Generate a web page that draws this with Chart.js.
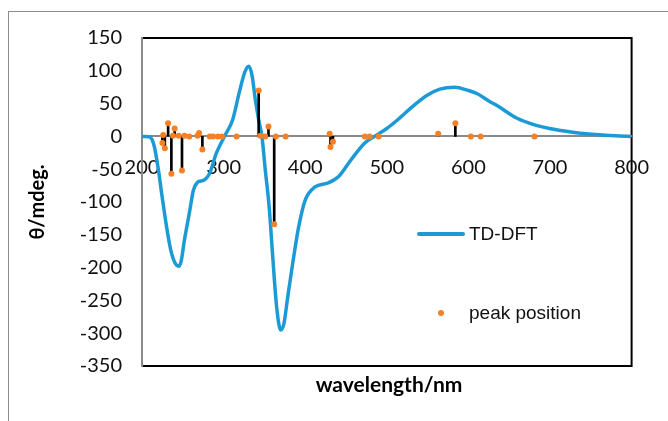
<!DOCTYPE html>
<html>
<head>
<meta charset="utf-8">
<script src="https://cdn.jsdelivr.net/npm/chart.js@4/dist/chart.umd.min.js"></script>
<style>
  html, body { margin: 0; padding: 0; background: #fff; }
  #wrap { position: relative; width: 668px; height: 421px; overflow: hidden; }
  #frame { position: absolute; left: 8px; top: 11px; width: 700px; height: 500px; border: 1px solid #8c8c8c; }
  #chart { position: absolute; left: 0; top: 0; }
  .xtitle { position: absolute; left: 142px; width: 494px; top: 371px; text-align: center;
            font: bold 21px Lato, sans-serif; color: #000; }
  .leg { position: absolute; font: 19px "Liberation Sans", Arial, sans-serif; color: #111; line-height: 20px; }
  .leg-line { position: absolute; left: 417px; top: 232px; width: 48px; height: 4px; border-radius: 2px; background: #1c9ad6; }
  .leg-dot { position: absolute; left: 438px; top: 310px; width: 6px; height: 6px; border-radius: 50%; background: #f58025; }
</style>
</head>
<body>
<div id="wrap">
  <div id="frame"></div>
  <canvas id="chart" width="668" height="421"></canvas>
  <div class="xtitle">wavelength/nm</div>
  <div class="leg-line"></div>
  <div class="leg" style="left:469px; top:224px;">TD-DFT</div>
  <div class="leg-dot"></div>
  <div class="leg" style="left:469px; top:303px;">peak position</div>
</div>
<script>
// TD-DFT simulated CD spectrum
const curveNm = [200, 205, 210, 215, 220, 225, 230, 235, 240, 245, 248, 252, 258, 263, 268, 272, 277, 283,
  291, 301, 311, 319, 326, 331, 335, 339, 343, 347, 351, 356, 360, 365, 370, 374, 378, 384, 392, 400,
  412, 428, 441, 456, 473, 489, 500, 513, 534, 550, 565, 583, 600, 611, 625, 635, 659, 680, 708, 730,
  756, 780, 800];
const curveCd = [0, 0, -1, -15, -50, -95, -137, -172, -192, -198, -190, -158, -117, -82, -70, -68, -66, -56,
  -26, 0, 25, 66, 98, 107, 92, 55, 25, 0, -50, -110, -180, -260, -295, -285, -250, -199, -138, -97,
  -77, -71, -61, -36, -10, 3, 12, 25, 48, 63, 72, 75, 70, 65, 54, 47, 28, 18, 10, 6,
  3, 1, 0];

// calculated transitions (stick spectrum)
const peakNm = [225, 226, 228, 232, 236, 238, 240, 245, 249, 252, 258, 268, 270, 274, 283, 287, 293, 298,
  316, 343, 345, 351, 355, 362, 364, 376, 430, 431, 434, 473, 479, 490, 563, 584, 603, 615, 681];
const peakCd = [-10, 2, -18, 20, -57, 1, 12, 1, -52, 1, 0, 1, 5, -20, 0, 0, 0, 0,
  0, 70, 1, 0, 15, -134, 0, 0, 4, -16, -8, 0, 0, 0, 4, 20, 0, 0, 0];

const yTicks = { min: -350, max: 150, step: 50 };
const xTicks = { min: 200, max: 800, step: 100 };

const blue = '#1c9ad6';
const orange = '#f58025';

const curvePts = curveNm.map((x, i) => ({ x, y: curveCd[i] }));
const peakPts = peakNm.map((x, i) => ({ x, y: peakCd[i] }));

const plotBorder = {
  id: 'plotBorder',
  beforeDraw(chart) {
    const { ctx, chartArea: a } = chart;
    ctx.save();
    ctx.strokeStyle = '#000';
    ctx.lineWidth = 2;
    ctx.strokeRect(a.left, a.top, a.right - a.left, a.bottom - a.top);
    ctx.restore();
  }
};

const tickFont = { family: 'Lato', size: 20 };

new Chart(document.getElementById('chart').getContext('2d'), {
  data: {
    datasets: [
      {
        type: 'line',
        label: 'TD-DFT',
        data: curvePts,
        borderColor: blue,
        borderWidth: 3.5,
        pointRadius: 0,
        cubicInterpolationMode: 'monotone',
        fill: false,
        order: 2
      },
      {
        type: 'bar',
        label: 'sticks',
        data: peakPts,
        backgroundColor: '#000',
        barThickness: 2,
        order: 1
      },
      {
        type: 'scatter',
        label: 'peak position',
        data: peakPts,
        backgroundColor: orange,
        borderWidth: 0,
        pointRadius: 3,
        order: 0
      }
    ]
  },
  options: {
    responsive: false,
    devicePixelRatio: 1,
    animation: false,
    layout: { padding: { left: 0, top: 38, right: 32, bottom: 55 } },
    plugins: {
      legend: { display: false },
      tooltip: { enabled: false }
    },
    scales: {
      x: {
        type: 'linear',
        position: { y: 0 },
        min: xTicks.min,
        max: xTicks.max,
        offset: false,
        grid: { display: false, drawTicks: false, offset: false },
        border: { color: '#8a8a8a', width: 2 },
        ticks: { stepSize: xTicks.step, padding: 19, color: '#111', font: tickFont, maxRotation: 0 }
      },
      y: {
        type: 'linear',
        position: 'left',
        min: yTicks.min,
        max: yTicks.max,
        grid: { display: false, drawTicks: false },
        border: { color: '#8a8a8a', width: 2 },
        ticks: { stepSize: yTicks.step, padding: 20, color: '#111', font: tickFont },
        title: {
          display: true,
          text: 'θ/mdeg.',
          color: '#000',
          font: { family: 'Lato', size: 20, weight: 'bold' },
          padding: { top: 26, bottom: 0 }
        },
        afterFit(scale) { scale.width = 142; }
      }
    }
  },
  plugins: [plotBorder]
});
</script>
</body>
</html>
